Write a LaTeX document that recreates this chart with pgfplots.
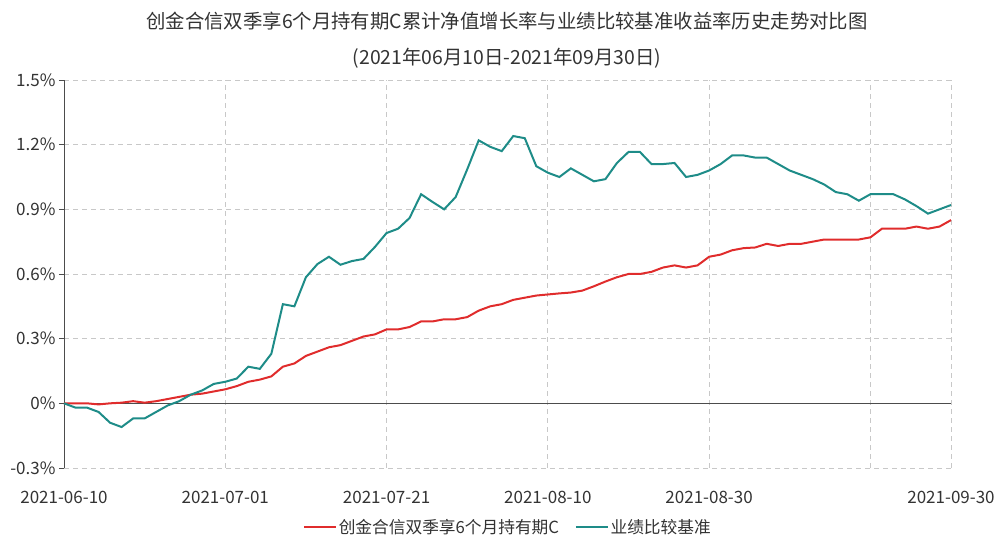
\documentclass[border=0pt]{standalone}
\usepackage{pgfplots}
\pgfplotsset{compat=1.18}
\usepackage{fontspec}
\setmainfont{Noto Sans CJK SC}
\definecolor{redline}{RGB}{224,44,44}
\definecolor{tealline}{RGB}{30,140,136}
\definecolor{txt}{RGB}{51,51,51}
\definecolor{gridc}{RGB}{200,200,200}
\begin{document}
\begin{tikzpicture}
\path[use as bounding box] (0,0) rectangle (999pt,535pt);
\begin{axis}[
  at={(64pt,67pt)}, anchor=south west,
  width=887pt, height=388pt, scale only axis,
  xmin=0, xmax=77, ymin=-0.3, ymax=1.5,
  axis y line*=left,
  axis x line*=bottom,
  x axis line style={draw=none},
  y axis line style={draw=black!70, line width=0.8pt},
  xtick={0,14,28,42,56,70,77},
  xticklabels={2021-06-10,2021-07-01,2021-07-21,2021-08-10,2021-08-30,,2021-09-30},
  ytick={-0.3,0,0.3,0.6,0.9,1.2,1.5},
  yticklabels={-0.3\%,0\%,0.3\%,0.6\%,0.9\%,1.2\%,1.5\%},
  xtick style={draw=none},
  ytick style={draw=black!70, line width=0.8pt},
  tick align=outside,
  major tick length=5pt,
  grid=major,
  grid style={dash pattern=on 5pt off 4pt, draw=gridc, line width=0.8pt},
  extra y ticks={0},
  extra y tick labels={},
  extra y tick style={grid style={solid, draw=black!70, line width=0.8pt}},
  tick label style={font=\fontsize{17}{20}\selectfont, text=txt},
  xticklabel style={yshift=-15pt},
  legend style={draw=none, at={(0.5006,-0.152)}, anchor=center,
    font=\fontsize{16.7}{20}\selectfont, text=txt,
    /tikz/every even column/.append style={column sep=14pt}},
  legend columns=2,
  legend image code/.code={\draw[#1, line width=1.5pt] (0pt,0pt) -- (32pt,0pt);},
  clip=false,
]
\addplot[redline, line width=2pt] coordinates {
(0,0.00) (1,0.00) (2,0.00) (3,-0.005) (4,0.00) (5,0.003) (6,0.01) (7,0.003) (8,0.01) (9,0.02)
(10,0.03) (11,0.04) (12,0.045) (13,0.055) (14,0.065) (15,0.08) (16,0.10) (17,0.11) (18,0.125) (19,0.17)
(20,0.185) (21,0.22) (22,0.24) (23,0.26) (24,0.27) (25,0.29) (26,0.31) (27,0.32) (28,0.343) (29,0.343)
(30,0.354) (31,0.38) (32,0.38) (33,0.39) (34,0.39) (35,0.40) (36,0.43) (37,0.45) (38,0.46) (39,0.48)
(40,0.49) (41,0.50) (42,0.505) (43,0.51) (44,0.514) (45,0.523) (46,0.543) (47,0.565) (48,0.585) (49,0.60)
(50,0.60) (51,0.61) (52,0.63) (53,0.64) (54,0.63) (55,0.64) (56,0.68) (57,0.69) (58,0.71) (59,0.72)
(60,0.723) (61,0.74) (62,0.73) (63,0.74) (64,0.74) (65,0.75) (66,0.76) (67,0.76) (68,0.76) (69,0.76)
(70,0.77) (71,0.81) (72,0.81) (73,0.81) (74,0.82) (75,0.81) (76,0.82) (77,0.85)
};
\addlegendentry{创金合信双季享6个月持有期C}
\addplot[tealline, line width=2pt] coordinates {
(0,0.00) (1,-0.02) (2,-0.02) (3,-0.04) (4,-0.09) (5,-0.11) (6,-0.07) (7,-0.07) (8,-0.04) (9,-0.01)
(10,0.01) (11,0.04) (12,0.06) (13,0.09) (14,0.10) (15,0.115) (16,0.17) (17,0.16) (18,0.23) (19,0.46)
(20,0.45) (21,0.585) (22,0.646) (23,0.68) (24,0.643) (25,0.66) (26,0.67) (27,0.726) (28,0.79) (29,0.81)
(30,0.86) (31,0.97) (32,0.934) (33,0.90) (34,0.957) (35,1.085) (36,1.22) (37,1.19) (38,1.17) (39,1.24)
(40,1.23) (41,1.10) (42,1.07) (43,1.05) (44,1.09) (45,1.06) (46,1.03) (47,1.04) (48,1.115) (49,1.166)
(50,1.166) (51,1.11) (52,1.11) (53,1.115) (54,1.05) (55,1.06) (56,1.08) (57,1.11) (58,1.15) (59,1.15)
(60,1.14) (61,1.14) (62,1.11) (63,1.08) (64,1.06) (65,1.04) (66,1.015) (67,0.98) (68,0.97) (69,0.94)
(70,0.97) (71,0.97) (72,0.97) (73,0.946) (74,0.915) (75,0.88) (76,0.90) (77,0.92)
};
\addlegendentry{业绩比较基准}
\end{axis}
\node[text=txt, font=\fontsize{19.4}{22}\selectfont] at (507pt,513.5pt) {创金合信双季享6个月持有期C累计净值增长率与业绩比较基准收益率历史走势对比图};
\node[text=txt, font=\fontsize{19.4}{22}\selectfont] at (507pt,477pt) {(2021年06月10日-2021年09月30日)};
\end{tikzpicture}
\end{document}
